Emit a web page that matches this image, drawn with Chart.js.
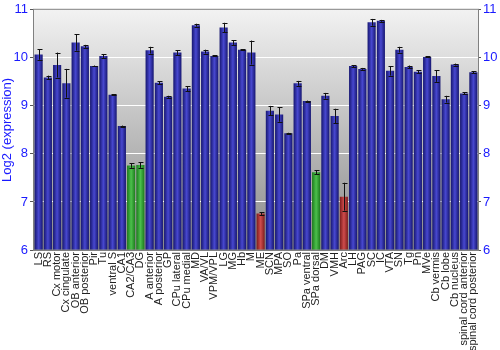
<!DOCTYPE html>
<html>
<head>
<meta charset="utf-8">
<script src="https://cdn.jsdelivr.net/npm/chart.js@4"></script>
<style>
  html, body { margin: 0; padding: 0; background: #fff; }
  #wrap { width: 500px; height: 350px; }
</style>
</head>
<body>
<div id="wrap"><canvas id="exprChart" width="500" height="350"></canvas></div>
<script>
const regions = [
  "LS", "RS", "Cx motor", "Cx cingulate", "OB anterior", "OB posterior", "Pir", "Tu",
  "ventral S", "CA1", "CA2/CA3", "DG", "A anterior", "A posterior", "GP", "CPu lateral",
  "CPu medial", "MD", "VA/VL", "VPM/VPL", "LG", "MG", "Hb", "M", "ME", "SCN", "MPA",
  "SO", "Pa", "SPa ventral", "SPa dorsal", "DM", "VMH", "Arc", "LH", "PAG", "SC", "IC",
  "VTA", "SN", "Tg", "Pn", "MVe", "Cb vermis", "Cb lobe", "Cb nucleus",
  "spinal cord anterior", "spinal cord posterior",
];

const expression = [
  10.07, 9.59, 9.85, 9.47, 10.32, 10.24, 9.83, 10.04,
  9.23, 8.58, 7.76, 7.77, 10.16, 9.48, 9.19, 10.11,
  9.36, 10.68, 10.13, 10.04, 10.63, 10.32, 10.17, 10.11, 6.76, 8.90, 8.82,
  8.43, 9.47, 9.10, 7.62, 9.21, 8.79, 7.11, 9.83, 9.77, 10.74, 10.77,
  9.73, 10.17, 9.81, 9.71, 10.02, 9.62, 9.14, 9.86,
  9.26, 9.70,
];

const errors = [
  0.11, 0.04, 0.26, 0.30, 0.17, 0.03, 0.01, 0.04,
  0.01, 0.01, 0.05, 0.06, 0.07, 0.03, 0.02, 0.05,
  0.05, 0.03, 0.04, 0.01, 0.10, 0.05, 0.01, 0.25, 0.03, 0.10, 0.15,
  0.01, 0.05, 0.01, 0.04, 0.06, 0.15, 0.29, 0.02, 0.02, 0.07, 0.02,
  0.10, 0.06, 0.03, 0.03, 0.01, 0.12, 0.07, 0.02,
  0.02, 0.02,
];

// b = normal, g = high group, r = low group
const groups = [
  "b", "b", "b", "b", "b", "b", "b", "b",
  "b", "b", "g", "g", "b", "b", "b", "b",
  "b", "b", "b", "b", "b", "b", "b", "b", "r", "b", "b",
  "b", "b", "b", "g", "b", "b", "r", "b", "b", "b", "b",
  "b", "b", "b", "b", "b", "b", "b", "b",
  "b", "b",
];

const yTicks = [6, 7, 8, 9, 10, 11];

const GROUP_COLORS = {
  b: ["#161670", "#4848d0"],
  g: ["#1c7a1c", "#4cc04c"],
  r: ["#7a1c1c", "#d04c4c"],
};

const BAR_PCT = 0.88;
const FONT = "'Liberation Sans', Arial, sans-serif";

function barFill(ctx) {
  const chart = ctx.chart;
  const kind = groups[ctx.dataIndex] || "b";
  const [edge, mid] = GROUP_COLORS[kind];
  const xs = chart.scales.x;
  if (!chart.chartArea || !xs) return mid;
  const cx = xs.getPixelForValue(ctx.dataIndex);
  const half = (xs.width / regions.length) * BAR_PCT / 2;
  const g = chart.ctx.createLinearGradient(cx - half, 0, cx + half, 0);
  g.addColorStop(0, edge);
  g.addColorStop(0.5, mid);
  g.addColorStop(1, edge);
  return g;
}

const plotBackground = {
  id: "plotBackground",
  beforeDraw(chart) {
    const { ctx, chartArea: a } = chart;
    const g = ctx.createLinearGradient(0, a.top, 0, a.bottom);
    g.addColorStop(0, "#f2f2f2");
    g.addColorStop(1, "#8a8a8a");
    ctx.save();
    ctx.fillStyle = g;
    ctx.fillRect(a.left, a.top, a.right - a.left, a.bottom - a.top);
    ctx.restore();
  },
  afterDraw(chart) {
    const { ctx, chartArea: a } = chart;
    ctx.save();
    ctx.strokeStyle = "#808080";
    ctx.lineWidth = 1;
    ctx.strokeRect(a.left - 0.5, a.top - 0.5, a.right - a.left + 1, a.bottom - a.top + 1);
    ctx.restore();
  },
};

const errorBars = {
  id: "errorBars",
  afterDatasetsDraw(chart) {
    const { ctx } = chart;
    const ys = chart.scales.y;
    const meta = chart.getDatasetMeta(0);
    ctx.save();
    ctx.strokeStyle = "#111";
    ctx.lineWidth = 1;
    meta.data.forEach((bar, i) => {
      const e = errors[i];
      const top = ys.getPixelForValue(expression[i] + e);
      const bot = ys.getPixelForValue(expression[i] - e);
      const x = Math.round(bar.x) + 0.5;
      ctx.beginPath();
      ctx.moveTo(x, top);
      ctx.lineTo(x, bot);
      ctx.moveTo(x - 2, Math.round(top) + 0.5);
      ctx.lineTo(x + 3, Math.round(top) + 0.5);
      ctx.moveTo(x - 2, Math.round(bot) + 0.5);
      ctx.lineTo(x + 3, Math.round(bot) + 0.5);
      ctx.stroke();
    });
    ctx.restore();
  },
};

const ctx = document.getElementById("exprChart").getContext("2d");
new Chart(ctx, {
  type: "bar",
  data: {
    labels: regions,
    datasets: [{
      data: expression,
      backgroundColor: barFill,
      borderWidth: 0,
      barPercentage: BAR_PCT,
      categoryPercentage: 1,
      base: 6,
    }],
  },
  options: {
    responsive: false,
    animation: false,
    devicePixelRatio: 1,
    layout: { padding: { top: 9, left: 0, right: 0, bottom: 0 } },
    plugins: {
      legend: { display: false },
      tooltip: { enabled: false },
    },
    scales: {
      x: {
        grid: { display: false, drawTicks: false },
        border: { display: false },
        ticks: {
          autoSkip: false,
          minRotation: 90,
          maxRotation: 90,
          padding: 2,
          color: "#222",
          font: { family: FONT, size: 11 },
        },
        afterFit(s) { s.height = 100; },
      },
      y: {
        min: 6,
        max: 11,
        position: "left",
        afterBuildTicks(s) { s.ticks = yTicks.map((v) => ({ value: v })); },
        grid: {
          color: "#ffffff",
          lineWidth: 1,
          drawTicks: true,
          tickLength: 4,
          tickColor: "#555",
        },
        border: { display: false },
        ticks: {
          color: "#1a1aff",
          padding: 2,
          font: { family: FONT, size: 13 },
        },
        title: {
          display: true,
          text: "Log2 (expression)",
          color: "#1a1aff",
          padding: { top: 0, bottom: 0 },
          font: { family: FONT, size: 13 },
        },
        afterFit(s) { s.width = 34; },
      },
      y2: {
        min: 6,
        max: 11,
        position: "right",
        afterBuildTicks(s) { s.ticks = yTicks.map((v) => ({ value: v })); },
        grid: { drawOnChartArea: false, drawTicks: true, tickLength: 3, tickColor: "#555" },
        border: { display: false },
        ticks: {
          color: "#1a1aff",
          padding: 2,
          font: { family: FONT, size: 13 },
        },
        afterFit(s) { s.width = 22; },
      },
    },
  },
  plugins: [plotBackground, errorBars],
});
</script>
</body>
</html>
